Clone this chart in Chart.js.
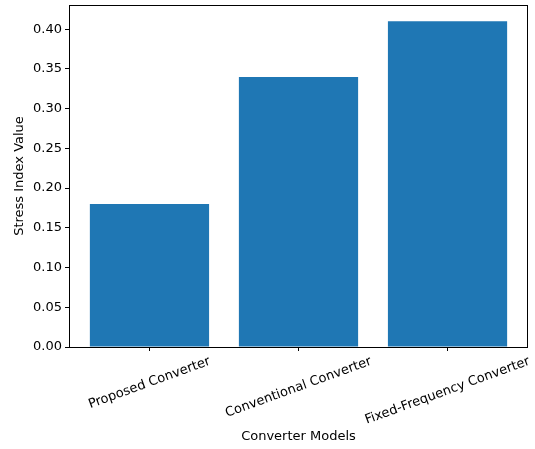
<!DOCTYPE html>
<html>
<head>
<meta charset="utf-8">
<script src="https://cdn.jsdelivr.net/npm/chart.js@4/dist/chart.umd.min.js"></script>
<style>
	html, body { margin: 0; padding: 0; background: #fff; }
	#wrap { width: 535px; height: 449px; }
</style>
</head>
<body>
<div id="wrap"><canvas id="stress_chart" width="535" height="449"></canvas></div>
<script>
const categories = ['Proposed Converter', 'Conventional Converter', 'Fixed-Frequency Converter'];
const stress_values = [0.18, 0.34, 0.41];
const y_ticks = [0, 0.05, 0.10, 0.15, 0.20, 0.25, 0.30, 0.35, 0.40];

const FONT = '"DejaVu Sans", sans-serif';
const FS = 13;

// frame + rotated category labels + axis titles, matplotlib style
const decorations = {
	id: 'decorations',
	afterDraw(chart) {
		const ctx = chart.ctx;
		const a = chart.chartArea;
		const xs = chart.scales.x;

		ctx.save();
		ctx.strokeStyle = '#000';
		ctx.lineWidth = 1;
		ctx.strokeRect(Math.round(a.left) + 0.5, Math.round(a.top) + 0.5,
			Math.round(a.right - a.left) - 1, Math.round(a.bottom - a.top));

		ctx.fillStyle = '#000';
		ctx.font = FS + 'px ' + FONT;
		const ang = 20 * Math.PI / 180;
		categories.forEach((name, i) => {
			const px = xs.getPixelForValue(i);
			const w = ctx.measureText(name).width;
			const h = 15;
			const H = w * Math.sin(ang) + h * Math.cos(ang);
			const cy = a.bottom + 7 + H / 2;
			ctx.save();
			ctx.translate(px, cy);
			ctx.rotate(-ang);
			ctx.textAlign = 'center';
			ctx.textBaseline = 'middle';
			ctx.fillText(name, 0, 0);
			ctx.restore();
		});

		ctx.textAlign = 'center';
		ctx.textBaseline = 'middle';
		ctx.fillText('Converter Models', (a.left + a.right) / 2, 437);

		ctx.save();
		ctx.translate(20, (a.top + a.bottom) / 2);
		ctx.rotate(-Math.PI / 2);
		ctx.fillText('Stress Index Value', 0, 0);
		ctx.restore();
		ctx.restore();
	}
};

function generate_chart() {
	const ctx = document.getElementById('stress_chart').getContext('2d');

	const myChart = new Chart(ctx, {
		type: 'bar',
		data: {
			datasets: [{
				label: 'Stress Index',
				data: stress_values.map((v, i) => ({ x: i, y: v })),
				backgroundColor: '#1f77b4',
				borderWidth: 0,
				inflateAmount: 0,
				barPercentage: 0.8,
				categoryPercentage: 1
			}]
		},
		options: {
			responsive: false,
			animation: false,
			devicePixelRatio: 1,
			layout: { padding: { top: 5, right: 7, left: 0, bottom: 0 } },
			plugins: {
				legend: { display: false },
				tooltip: { enabled: false }
			},
			scales: {
				x: {
					type: 'linear',
					offset: false,
					min: -0.54,
					max: 2.54,
					afterBuildTicks: scale => {
						scale.ticks = categories.map((c, i) => ({ value: i }));
					},
					afterFit: scale => {
						scale.height = 102;
						scale.paddingLeft = 0;
						scale.paddingRight = 0;
					},
					ticks: { display: false },
					grid: {
						offset: false,
						drawOnChartArea: false,
						drawTicks: true,
						tickLength: 4,
						color: '#000'
					},
					border: { display: false }
				},
				y: {
					min: 0,
					max: 0.4305,
					afterBuildTicks: scale => {
						scale.ticks = y_ticks.map(v => ({ value: v }));
					},
					afterFit: scale => {
						scale.width = 69;
						scale.paddingTop = 0;
						scale.paddingBottom = 0;
					},
					ticks: {
						padding: 3,
						color: '#000',
						font: { family: FONT, size: FS },
						callback: v => v.toFixed(2)
					},
					grid: {
						drawOnChartArea: false,
						drawTicks: true,
						tickLength: 4,
						color: '#000'
					},
					border: { display: false }
				}
			}
		},
		plugins: [decorations]
	});
}

generate_chart();
</script>
</body>
</html>
